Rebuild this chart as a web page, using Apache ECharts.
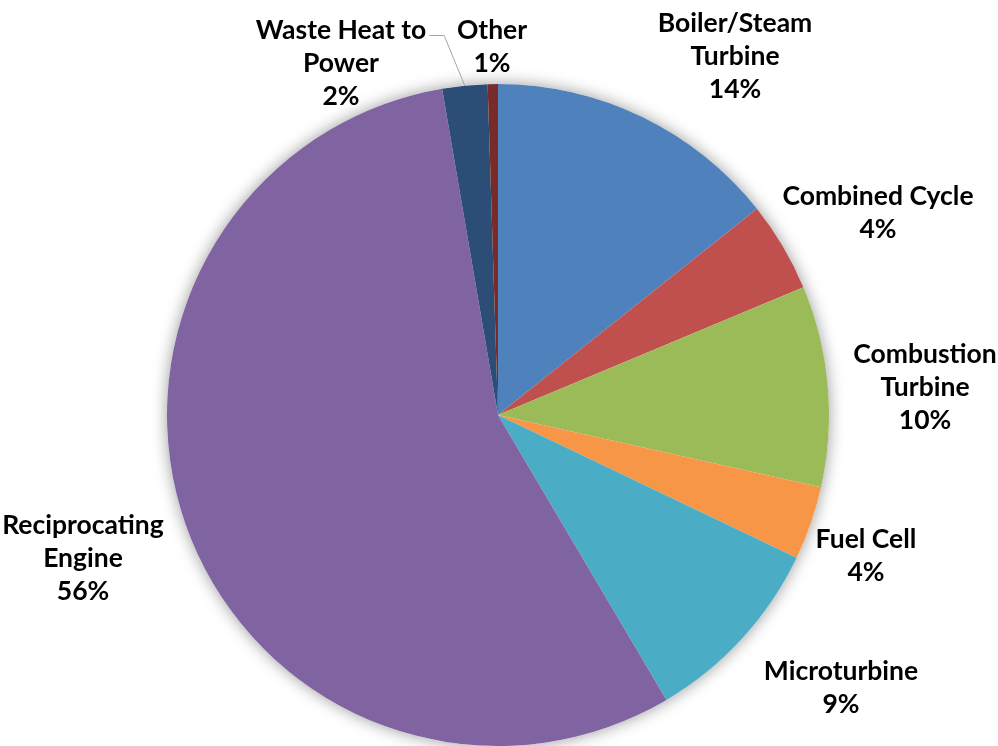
<!DOCTYPE html>
<html>
<head>
<meta charset="utf-8">
<script src="https://cdn.jsdelivr.net/npm/echarts@6/dist/echarts.min.js"></script>
<style>
  html, body { margin: 0; padding: 0; background: #fff; }
  #chart { width: 998px; height: 746px; }
</style>
</head>
<body>
<div id="chart"></div>
<script>
// 数据
var categories = ['Boiler/Steam\nTurbine', 'Combined Cycle', 'Combustion\nTurbine', 'Fuel Cell',
                  'Microturbine', 'Reciprocating\nEngine', 'Waste Heat to\nPower', 'Other'];
var shares = [14.3, 4.4, 9.8, 3.6, 9.4, 55.8, 2.2, 0.5];
var colors = ['#4F81BD', '#C0504D', '#9BBB59', '#F79646', '#4BACC6', '#8064A2', '#2C4D75', '#772C2A'];

// label block centres (Excel "best fit" placement)
var labelSpots = [[735, 56], [878, 213], [925, 387], [866, 556], [841, 688], [83, 558], [341, 63], [492, 47]];

var chart = echarts.init(document.getElementById('chart'));

var pieData = [];
for (var i = 0; i < categories.length; i++) {
    pieData.push({
        name: categories[i],
        value: shares[i],
        itemStyle: { color: colors[i] },
        labelLine: { show: i === 6 }
    });
}

chart.setOption({
    animation: false,
    series: [
        {
            // soft shadow under the pie
            type: 'pie',
            silent: true,
            center: [498, 415],
            radius: 331,
            z: 1,
            label: { show: false },
            labelLine: { show: false },
            itemStyle: {
                color: '#ffffff',
                shadowBlur: 16,
                shadowColor: 'rgba(0,0,0,0.4)'
            },
            data: [1]
        },
        {
            type: 'pie',
            center: [498, 415],
            radius: 331,
            startAngle: 90,
            clockwise: true,
            z: 2,
            data: pieData,
            label: {
                show: true,
                position: 'outside',
                overflow: 'none',
                fontFamily: 'Lato',
                fontWeight: 'bold',
                fontSize: 26.5,
                lineHeight: 33,
                color: '#000',
                align: 'center',
                formatter: function (p) {
                    return p.name + '\n' + Math.round(p.value) + '%';
                }
            },
            labelLine: {
                length: 20,
                length2: 10,
                lineStyle: { color: '#A6A6A6', width: 1 }
            },
            labelLayout: function (params) {
                var s = labelSpots[params.dataIndex];
                var out = { x: s[0], y: s[1], align: 'center', verticalAlign: 'middle' };
                if (params.labelLinePoints && params.dataIndex === 6) {
                    // leader line: from slice edge up, then a short tail to the first text line
                    var r = params.labelRect;
                    var endX = s[0] + r.width / 2 + 3;
                    var endY = s[1] - r.height / 2 + 22;
                    var edge = params.labelLinePoints[0];
                    out.labelLinePoints = [[edge[0], edge[1]], [endX + 15, endY], [endX, endY]];
                }
                return out;
            }
        }
    ]
});
</script>
</body>
</html>
